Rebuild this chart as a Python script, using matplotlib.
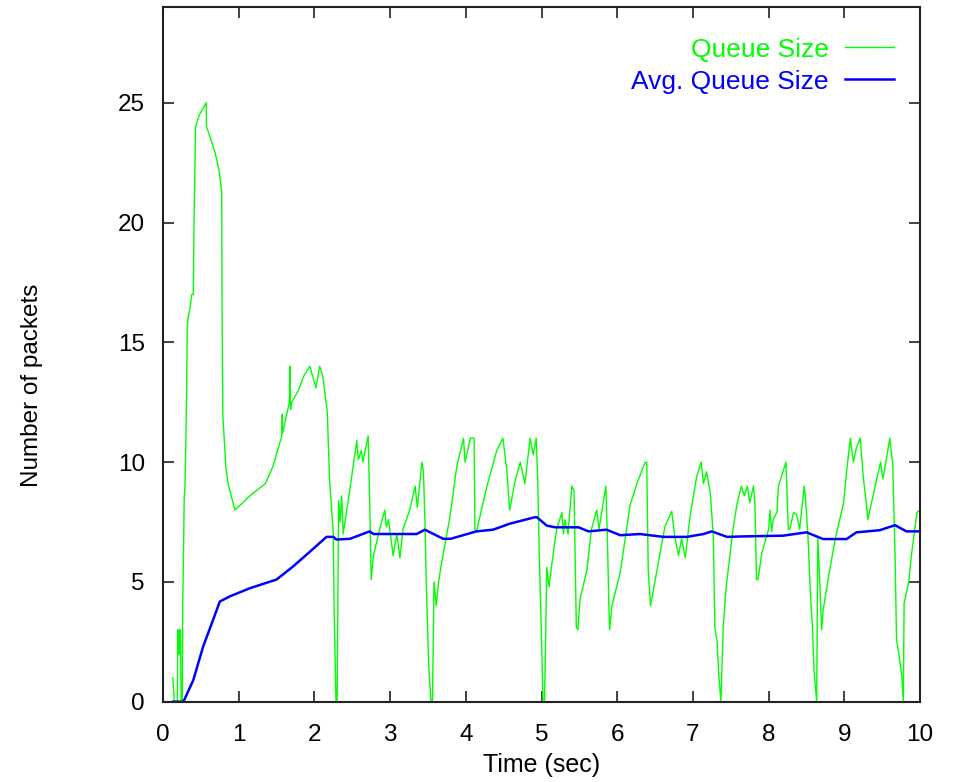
import matplotlib
matplotlib.use("Agg")
import matplotlib.pyplot as plt

plt.rcParams['font.family'] = ['Liberation Sans', 'DejaVu Sans']

# Queue size (packets) vs time (sec)
queue_t = [0.13, 0.14, 0.15, 0.19, 0.195, 0.205, 0.21, 0.22, 0.23, 0.24, 0.255, 0.26, 0.27, 0.28, 0.29,
           0.30, 0.31, 0.32, 0.33, 0.36, 0.38, 0.40, 0.41, 0.43, 0.48, 0.57, 0.575, 0.63, 0.69, 0.74,
           0.775, 0.78, 0.79, 0.83, 0.86, 0.95, 1.15, 1.35, 1.45, 1.57, 1.575, 1.58, 1.62, 1.67, 1.675,
           1.685, 1.70, 1.79, 1.86, 1.94, 2.02, 2.07, 2.11, 2.17, 2.20, 2.23, 2.25, 2.26, 2.285, 2.30,
           2.32, 2.34, 2.36, 2.38, 2.47, 2.56, 2.58, 2.62, 2.64, 2.71, 2.73, 2.75, 2.78, 2.87, 2.93,
           2.95, 2.98, 3.04, 3.09, 3.13, 3.17, 3.26, 3.33, 3.36, 3.42, 3.44, 3.46, 3.48, 3.51, 3.54,
           3.56, 3.58, 3.61, 3.64, 3.68, 3.79, 3.88, 3.97, 3.99, 4.06, 4.11, 4.12, 4.14, 4.28, 4.41,
           4.49, 4.54, 4.58, 4.65, 4.72, 4.78, 4.85, 4.89, 4.93, 4.95, 4.97, 5.00, 5.02, 5.04, 5.07,
           5.10, 5.13, 5.20, 5.27, 5.29, 5.31, 5.35, 5.40, 5.43, 5.46, 5.48, 5.51, 5.60, 5.66, 5.73,
           5.76, 5.82, 5.85, 5.87, 5.89, 5.90, 5.93, 6.04, 6.17, 6.26, 6.37, 6.39, 6.41, 6.44, 6.52,
           6.63, 6.72, 6.76, 6.81, 6.85, 6.90, 6.96, 7.05, 7.11, 7.14, 7.18, 7.23, 7.27, 7.29, 7.32,
           7.34, 7.37, 7.40, 7.44, 7.53, 7.58, 7.64, 7.68, 7.72, 7.75, 7.80, 7.82, 7.84, 7.86, 7.91,
           8.00, 8.02, 8.04, 8.06, 8.11, 8.13, 8.19, 8.23, 8.26, 8.28, 8.33, 8.37, 8.41, 8.47, 8.49,
           8.52, 8.56, 8.58, 8.60, 8.635, 8.65, 8.67, 8.70, 8.72, 8.79, 8.88, 8.99, 9.03, 9.08, 9.12,
           9.16, 9.21, 9.25, 9.30, 9.31, 9.38, 9.45, 9.48, 9.51, 9.56, 9.60, 9.64, 9.67, 9.69, 9.72,
           9.76, 9.78, 9.79, 9.85, 9.89, 9.96, 10.0]
queue_q = [1.0, 0.5, 0, 0, 3, 2, 3, 2, 3, 0, 0, 4, 6, 8.5, 9,
           10.5, 12.5, 15.5, 16, 16.5, 17, 17, 20, 24, 24.5, 25, 24, 23.5, 22.9, 22.2,
           21.3, 16.7, 12, 9.8, 9.1, 8.0, 8.6, 9.1, 9.8, 11.1, 12, 11.2, 11.8, 12.5, 14,
           12.2, 12.5, 13, 13.6, 14, 13.1, 14, 13.6, 12.1, 9.3, 7.9, 7, 4, 0, 0,
           8.4, 7.5, 8.6, 7.0, 8.9, 10.9, 10.1, 10.5, 10.0, 11.1, 8.4, 5.1, 6.1, 7.3, 8.0,
           7.3, 7.6, 6.1, 7.0, 6.0, 7.2, 8.0, 9.0, 8.1, 10.0, 9.6, 7.6, 4.7, 1.5, 0,
           0, 5.0, 4.0, 5.0, 5.8, 7.7, 9.8, 11, 10, 11, 11, 7.2, 7.1, 9.0, 10.5,
           11, 9.7, 8.0, 9.2, 10, 9.1, 11, 10.3, 11, 9.3, 6.2, 2.7, 0, 0, 5.6,
           4.8, 5.6, 7.2, 7.9, 7.0, 7.6, 7.0, 9.0, 8.8, 3.1, 3.0, 4.3, 5.5, 7.2, 8.0,
           7.2, 8.4, 9.0, 6.9, 4.0, 3.0, 4.0, 5.4, 8.2, 9.1, 10.0, 10.0, 5.5, 4.0, 5.4,
           7.3, 7.95, 6.9, 6.1, 6.8, 6.0, 7.7, 9.4, 10, 9.1, 9.6, 8.7, 6.9, 3.1, 2.5,
           1.2, 0, 3.1, 4.8, 7.2, 8.2, 9.0, 8.6, 9.0, 8.3, 9.0, 8.2, 5.1, 5.1, 6.2,
           7.2, 8.0, 7.1, 7.6, 7.9, 9.0, 9.6, 10, 7.2, 7.2, 7.9, 7.8, 7.2, 9.0, 8.4,
           6.9, 4.0, 3.1, 1.3, 0, 6.8, 5.5, 3.0, 3.8, 5.2, 6.8, 8.3, 9.6, 11, 10,
           10.6, 11, 9.4, 8.0, 7.6, 8.6, 9.6, 10, 9.3, 10.2, 11, 9.9, 6.2, 2.6, 2.0,
           1.05, 0, 4.1, 5.0, 6.2, 7.9, 8.0]

# Average queue size
avg_t = [0.13, 0.27, 0.40, 0.53, 0.66, 0.75, 0.885, 1.15, 1.50, 1.72, 1.99, 2.16, 2.25, 2.29, 2.47,
         2.73, 2.78, 3.35, 3.46, 3.70, 3.80, 4.14, 4.36, 4.58, 4.91, 4.94, 5.07, 5.18, 5.49, 5.62,
         5.86, 6.04, 6.30, 6.61, 6.92, 7.14, 7.25, 7.45, 7.67, 8.19, 8.50, 8.72, 9.03, 9.16, 9.30,
         9.47, 9.67, 9.82, 10.0]
avg_q = [0, 0, 0.9, 2.3, 3.4, 4.18, 4.4, 4.74, 5.1, 5.65, 6.4, 6.88, 6.88, 6.77, 6.8,
         7.11, 7.0, 7.0, 7.18, 6.8, 6.8, 7.11, 7.18, 7.43, 7.7, 7.7, 7.35, 7.28, 7.28, 7.11,
         7.18, 6.95, 7.0, 6.88, 6.88, 7.0, 7.11, 6.88, 6.9, 6.93, 7.07, 6.79, 6.79, 7.07, 7.11,
         7.16, 7.37, 7.11, 7.11]

x_ticks = list(range(0, 11))
y_ticks = [0, 5, 10, 15, 20, 25]

fig = plt.figure(figsize=(9.55, 7.82), dpi=100)
ax = fig.add_axes([163/955, 1-701.7/782, (920-163)/955, (701.7-7)/782])

ax.plot(queue_t, queue_q, color='#00ff00', lw=1.0, label='Queue Size')
ax.plot(avg_t, avg_q, color='#0000ff', lw=1.8, label='Avg. Queue Size')

ax.set_xlim(0, 10)
ax.set_ylim(0, 29)
ax.set_xticks(x_ticks)
ax.set_yticks(y_ticks)
ax.tick_params(direction='in', length=8, width=1.2, top=True, right=True,
               labelsize=17.5, color='#222222')
ax.tick_params(axis='x', pad=16)
ax.tick_params(axis='y', pad=13)
for s in ax.spines.values():
    s.set_linewidth(1.5)
    s.set_color('#222222')

ax.set_xlabel('Time (sec)', fontsize=18, labelpad=5)
fig.text(32/955, 1-385/782, 'Number of packets', rotation=90, fontsize=17.5,
         ha='center', va='center')

leg = ax.legend(loc='upper right', bbox_to_anchor=(0.997, 0.99), frameon=False,
                markerfirst=False, labelcolor='linecolor', fontsize=19,
                handlelength=1.86, handletextpad=0.62, labelspacing=0.3)

fig.savefig('out.png', dpi=100)
